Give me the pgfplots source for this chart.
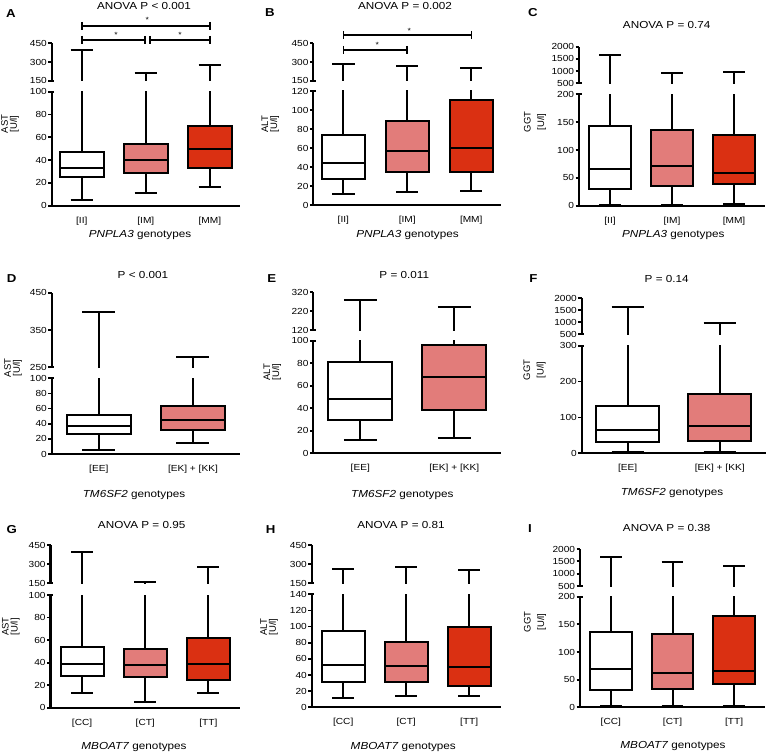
\documentclass[border=0pt]{standalone}
\usepackage{fontspec}
\setmainfont{Liberation Sans}[FakeStretch=1.15]
\newfontfamily\rotfont{Liberation Sans}
\usepackage{pgfplots}
\pgfplotsset{compat=1.18}
\definecolor{pk}{RGB}{226,124,122}
\definecolor{rd}{RGB}{218,48,18}
\pgfplotsset{
 pb/.style={scale only axis, anchor=south west,
   axis line style={-, line width=2.2pt},
   every outer x axis line/.append style={-},
   every outer y axis line/.append style={-},
   every inner x axis line/.append style={-},
   every inner y axis line/.append style={-},
   x axis line style={-}, y axis line style={-},
   tick style={black, line width=1.8pt},
   major tick length=3.5pt, tick align=outside,
   tick label style={font=\fontsize{8.8}{9}\selectfont},
   yticklabel style={inner sep=1.2pt},
   /pgf/number format/1000 sep={},
   /pgf/number format/assume math mode=true,
   extra y tick style={tick align=inside, major tick length=2.5pt},
   extra y tick labels={\mbox{}}},
 plo/.style={axis x line=bottom, axis y line=left, pb, xtick style={draw=none}, xticklabel style={yshift=-4pt},
   x axis line style={-}, y axis line style={-}},
 pup/.style={axis x line=none, axis y line=left, pb, xtick=\empty,
   x axis line style={-}, y axis line style={-}},
 bl/.style={draw=black, line width=2pt, mark=none, line join=miter},
}
% boxes: fill, lower whisker, Q1, median, Q3, upper whisker
\newcommand{\bxZ}[6]{%
 \addplot[bl] coordinates {(0,#2) (0,#3)};
 \addplot[bl] coordinates {(-0.175,#2) (0.175,#2)};
 \addplot[bl] coordinates {(0,#5) (0,#6)};
 \addplot[bl] coordinates {(-0.175,#6) (0.175,#6)};
 \addplot[bl, fill=#1] coordinates {(-0.34,#3) (0.34,#3) (0.34,#5) (-0.34,#5)} -- cycle;
 \addplot[bl] coordinates {(-0.34,#4) (0.34,#4)};}
\newcommand{\bxO}[6]{%
 \addplot[bl] coordinates {(1,#2) (1,#3)};
 \addplot[bl] coordinates {(0.825,#2) (1.175,#2)};
 \addplot[bl] coordinates {(1,#5) (1,#6)};
 \addplot[bl] coordinates {(0.825,#6) (1.175,#6)};
 \addplot[bl, fill=#1] coordinates {(0.66,#3) (1.34,#3) (1.34,#5) (0.66,#5)} -- cycle;
 \addplot[bl] coordinates {(0.66,#4) (1.34,#4)};}
\newcommand{\bxT}[6]{%
 \addplot[bl] coordinates {(2,#2) (2,#3)};
 \addplot[bl] coordinates {(1.825,#2) (2.175,#2)};
 \addplot[bl] coordinates {(2,#5) (2,#6)};
 \addplot[bl] coordinates {(1.825,#6) (2.175,#6)};
 \addplot[bl, fill=#1] coordinates {(1.66,#3) (2.34,#3) (2.34,#5) (1.66,#5)} -- cycle;
 \addplot[bl] coordinates {(1.66,#4) (2.34,#4)};}
\newcommand{\dA}{\bxZ{white}{5}{25}{33}{47}{400}\bxO{pk}{11}{29}{40}{54}{210}\bxT{rd}{16}{33}{50}{70}{278}}
\newcommand{\dB}{\bxZ{white}{12}{27}{44}{73.5}{282}\bxO{pk}{14}{35}{57}{88}{267}\bxT{rd}{15}{35}{60}{110}{250}}
\newcommand{\dC}{\bxZ{white}{2}{30}{65}{143}{1680}\bxO{pk}{2}{35}{71}{136}{920}\bxT{rd}{3}{39}{58}{127}{965}}
\newcommand{\dD}{\bxZ{white}{5}{26}{37}{52}{397}\bxO{pk}{15}{32}{45}{64}{278}}
\newcommand{\dE}{\bxZ{white}{11.5}{30}{48.5}{81}{280}\bxO{pk}{13.5}{38.5}{68}{96.5}{243}}
\newcommand{\dF}{\bxZ{white}{4}{32}{64}{133}{1650}\bxO{pk}{4}{33}{77}{166}{958}}
\newcommand{\dG}{\bxZ{white}{13}{28}{38.5}{53.5}{395}\bxO{pk}{5}{27}{38}{52.5}{158}\bxT{rd}{13}{25}{38.5}{61.5}{277}}
\newcommand{\dH}{\bxZ{white}{11}{31.5}{53}{95}{262}\bxO{pk}{13.5}{31.5}{51.5}{81}{280}\bxT{rd}{13.5}{26.5}{49.5}{99}{252}}
\newcommand{\dI}{\bxZ{white}{2}{31.5}{69.5}{135.5}{1667}\bxO{pk}{2}{32.5}{62.5}{132}{1470}\bxT{rd}{2}{41.5}{66}{165.5}{1320}}
\begin{document}
\begin{tikzpicture}
\path[use as bounding box] (0,0) rectangle (766pt,-754pt);
% ---------- A ----------
\begin{axis}[plo, at={(51.7pt,-205.7pt)}, width=188.3pt, height=114pt, xmin=-0.47, xmax=2.47, ymin=0, ymax=100,
  ytick={0,20,40,60,80,100}, extra y ticks={100}, xtick={0,1,2}, xticklabels={{[II]},{[IM]},{[MM]}}]
\dA
\end{axis}
\begin{axis}[pup, at={(51.7pt,-80.7pt)}, width=188.3pt, height=37.4pt, xmin=-0.47, xmax=2.47, ymin=150, ymax=450,
  ytick={150,300,450}, extra y ticks={150}]
\dA
\end{axis}
% ---------- B ----------
\begin{axis}[plo, at={(313.3pt,-205pt)}, width=188pt, height=114pt, xmin=-0.47, xmax=2.47, ymin=0, ymax=120,
  ytick={0,20,40,60,80,100,120}, extra y ticks={120}, xtick={0,1,2}, xticklabels={{[II]},{[IM]},{[MM]}}]
\dB
\end{axis}
\begin{axis}[pup, at={(313.3pt,-80.7pt)}, width=188pt, height=37.4pt, xmin=-0.47, xmax=2.47, ymin=150, ymax=450,
  ytick={150,300,450}, extra y ticks={150}]
\dB
\end{axis}
% ---------- C ----------
\begin{axis}[plo, at={(579pt,-205.7pt)}, width=186pt, height=111.4pt, xmin=-0.5, xmax=2.5, ymin=0, ymax=200,
  ytick={0,50,100,150,200}, extra y ticks={200}, xtick={0,1,2}, xticklabels={{[II]},{[IM]},{[MM]}}]
\dC
\end{axis}
\begin{axis}[pup, at={(579pt,-83.3pt)}, width=186pt, height=36.6pt, xmin=-0.5, xmax=2.5, ymin=500, ymax=2000,
  ytick={500,1000,1500,2000}, extra y ticks={500}]
\dC
\end{axis}
% ---------- D ----------
\begin{axis}[plo, at={(51.7pt,-454pt)}, width=188.3pt, height=75.7pt, xmin=-0.5, xmax=1.5, ymin=0, ymax=100,
  ytick={0,20,40,60,80,100}, extra y ticks={100}, xtick={0,1}, xticklabels={{[EE]},{[EK] + [KK]}}]
\dD
\end{axis}
\begin{axis}[pup, at={(51.7pt,-367.3pt)}, width=188.3pt, height=74.6pt, xmin=-0.5, xmax=1.5, ymin=250, ymax=450,
  ytick={250,350,450}, extra y ticks={250}]
\dD
\end{axis}
% ---------- E ----------
\begin{axis}[plo, at={(313.3pt,-453.3pt)}, width=188pt, height=112.6pt, xmin=-0.5, xmax=1.5, ymin=0, ymax=100,
  ytick={0,20,40,60,80,100}, extra y ticks={100}, xtick={0,1}, xticklabels={{[EE]},{[EK] + [KK]}}]
\dE
\end{axis}
\begin{axis}[pup, at={(313.3pt,-330pt)}, width=188pt, height=37.7pt, xmin=-0.5, xmax=1.5, ymin=120, ymax=320,
  ytick={120,220,320}, extra y ticks={120}]
\dE
\end{axis}
% ---------- F ----------
\begin{axis}[plo, at={(581.7pt,-453.3pt)}, width=184pt, height=107.6pt, xmin=-0.5, xmax=1.5, ymin=0, ymax=300,
  ytick={0,100,200,300}, extra y ticks={300}, xtick={0,1}, xticklabels={{[EE]},{[EK] + [KK]}}]
\dF
\end{axis}
\begin{axis}[pup, at={(581.7pt,-334.3pt)}, width=184pt, height=36pt, xmin=-0.5, xmax=1.5, ymin=500, ymax=2000,
  ytick={500,1000,1500,2000}, extra y ticks={500}]
\dF
\end{axis}
% ---------- G ----------
\begin{axis}[plo, at={(50.5pt,-707.7pt)}, width=189.5pt, height=112.7pt, xmin=-0.5, xmax=2.5, ymin=0, ymax=100,
  ytick={0,20,40,60,80,100}, extra y ticks={100}, xtick={0,1,2}, xticklabels={{[CC]},{[CT]},{[TT]}}]
\dG
\end{axis}
\begin{axis}[pup, at={(50.5pt,-583.3pt)}, width=189.5pt, height=38.3pt, xmin=-0.5, xmax=2.5, ymin=150, ymax=450,
  ytick={150,300,450}, extra y ticks={150}]
\dG
\end{axis}
% ---------- H ----------
\begin{axis}[plo, at={(311.7pt,-707.3pt)}, width=189pt, height=113pt, xmin=-0.5, xmax=2.5, ymin=0, ymax=140,
  ytick={0,20,40,60,80,100,120,140}, extra y ticks={140}, xtick={0,1,2}, xticklabels={{[CC]},{[CT]},{[TT]}}]
\dH
\end{axis}
\begin{axis}[pup, at={(311.7pt,-583.3pt)}, width=189pt, height=38.3pt, xmin=-0.5, xmax=2.5, ymin=150, ymax=450,
  ytick={150,300,450}, extra y ticks={150}]
\dH
\end{axis}
% ---------- I ----------
\begin{axis}[plo, at={(580pt,-707.3pt)}, width=185pt, height=110.6pt, xmin=-0.5, xmax=2.5, ymin=0, ymax=200,
  ytick={0,50,100,150,200}, extra y ticks={200}, xtick={0,1,2}, xticklabels={{[CC]},{[CT]},{[TT]}}]
\dI
\end{axis}
\begin{axis}[pup, at={(580pt,-586pt)}, width=185pt, height=37pt, xmin=-0.5, xmax=2.5, ymin=500, ymax=2000,
  ytick={500,1000,1500,2000}, extra y ticks={500}]
\dI
\end{axis}
% ---------- panel letters ----------
\begin{scope}[every node/.style={font=\bfseries\fontsize{11.5}{12}\selectfont}]
\node at (10.8pt,-13.3pt) {A};
\node at (270pt,-13pt) {B};
\node at (533pt,-12.3pt) {C};
\node at (11.7pt,-278.3pt) {D};
\node at (271.7pt,-278.3pt) {E};
\node at (533.3pt,-278.3pt) {F};
\node at (11.7pt,-529.3pt) {G};
\node at (270.7pt,-529.3pt) {H};
\node at (530pt,-528.3pt) {I};
\end{scope}
% ---------- titles ----------
\begin{scope}[every node/.style={font=\fontsize{10.2}{11}\selectfont}]
\node at (144pt,-6pt) {ANOVA P < 0.001};
\node at (405pt,-6pt) {ANOVA P = 0.002};
\node at (666.7pt,-25pt) {ANOVA P = 0.74};
\node at (143pt,-275pt) {P < 0.001};
\node at (404.3pt,-275pt) {P = 0.011};
\node at (666.7pt,-279.3pt) {P = 0.14};
\node at (141.7pt,-525pt) {ANOVA P = 0.95};
\node at (401pt,-525pt) {ANOVA P = 0.81};
\node at (666.7pt,-528.3pt) {ANOVA P = 0.38};
% x labels
\node at (140pt,-235pt) {\textit{PNPLA3} genotypes};
\node at (407.5pt,-235pt) {\textit{PNPLA3} genotypes};
\node at (673.3pt,-235pt) {\textit{PNPLA3} genotypes};
\node at (134pt,-495pt) {\textit{TM6SF2} genotypes};
\node at (402.3pt,-495pt) {\textit{TM6SF2} genotypes};
\node at (672pt,-493.3pt) {\textit{TM6SF2} genotypes};
\node at (134pt,-746.7pt) {\textit{MBOAT7} genotypes};
\node at (403.3pt,-746.7pt) {\textit{MBOAT7} genotypes};
\node at (673pt,-746pt) {\textit{MBOAT7} genotypes};
\end{scope}
% ---------- y labels ----------
\begin{scope}[every node/.style={rotate=90, align=center, font=\rotfont\fontsize{9.5}{9}\selectfont}]
\node at (10pt,-124pt) {AST\\{[U/l]}};
\node at (270.3pt,-124pt) {ALT\\{[U/l]}};
\node at (13pt,-368pt) {AST\\{[U/l]}};
\node at (272.3pt,-372pt) {ALT\\{[U/l]}};
\node at (10.8pt,-626.7pt) {AST\\{[U/l]}};
\node at (269.2pt,-627pt) {ALT\\{[U/l]}};
\end{scope}
\begin{scope}[every node/.style={rotate=90, align=center, font=\rotfont\fontsize{9.5}{13.5}\selectfont}]
\node at (535pt,-122pt) {GGT\\{[U/l]}};
\node at (534.5pt,-370pt) {GGT\\{[U/l]}};
\node at (535pt,-622pt) {GGT\\{[U/l]}};
\end{scope}
% ---------- significance brackets ----------
\begin{scope}[line width=1.8pt]
\draw (81.8pt,-22pt) -- (81.8pt,-30pt) (81.8pt,-26pt) -- (209.9pt,-26pt) (209.9pt,-22pt) -- (209.9pt,-30pt);
\draw (81.8pt,-36pt) -- (81.8pt,-44pt) (81.8pt,-40pt) -- (145.2pt,-40pt) (145.2pt,-36pt) -- (145.2pt,-44pt);
\draw (150.2pt,-36pt) -- (150.2pt,-44pt) (150.2pt,-40pt) -- (209.9pt,-40pt) (209.9pt,-36pt) -- (209.9pt,-44pt);
\draw (343.4pt,-31pt) -- (343.4pt,-39pt) (343.4pt,-35pt) -- (471.4pt,-35pt) (471.4pt,-31pt) -- (471.4pt,-39pt);
\draw (343.4pt,-46pt) -- (343.4pt,-54pt) (343.4pt,-50pt) -- (406.7pt,-50pt) (406.7pt,-46pt) -- (406.7pt,-54pt);
\end{scope}
\begin{scope}[every node/.style={font=\fontsize{7.5}{8}\selectfont, anchor=base, inner sep=0pt}]
\node at (147.3pt,-22.3pt) {*};
\node at (116pt,-37.3pt) {*};
\node at (180pt,-37.3pt) {*};
\node at (409.3pt,-33.3pt) {*};
\node at (377.3pt,-47.3pt) {*};
\end{scope}
\end{tikzpicture}
\end{document}
